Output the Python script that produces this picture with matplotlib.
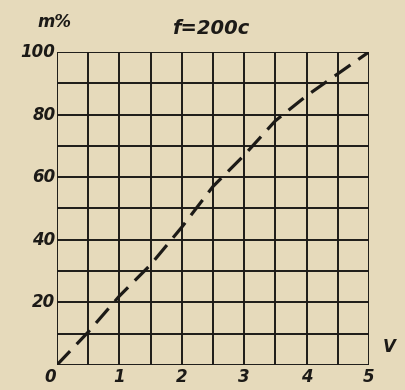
import numpy as np
import matplotlib
matplotlib.use("Agg")
import matplotlib.pyplot as plt

# (volts -> modulation depth %)
volts = [0, 0.5, 1.0, 1.5, 2.0, 2.5, 3.0, 3.5, 4.0, 4.5, 5.0]
depth = [0, 10.5, 22, 32, 44, 57, 67, 78, 86, 93, 100]

x_ticks = [0, 1, 2, 3, 4, 5]
x_labels = ['0', '1', '2', '3', '4', '5']
y_ticks = [20, 40, 60, 80, 100]
y_labels = ['20', '40', '60', '80', '100']

PAPER = '#e6dabb'
INK = '#1c1a17'

fig = plt.figure(figsize=(4.06, 3.90), dpi=100, facecolor=PAPER)
ax = fig.add_axes([0.140, 0.064, 0.769, 0.803])
ax.set_facecolor(PAPER)

# the squared paper
for gx in np.arange(0, 5.01, 0.5):
    ax.axvline(gx, color=INK, lw=1.4, zorder=1)
for gy in np.arange(0, 100.1, 10):
    ax.axhline(gy, color=INK, lw=1.4, zorder=1)

ax.plot(volts, depth, color=INK, lw=2.3, dashes=(6, 3), zorder=3)

ax.set_xlim(0, 5)
ax.set_ylim(0, 100)
for s in ax.spines.values():
    s.set_visible(False)
ax.set_xticks([])
ax.set_yticks([])

txt = dict(fontstyle='italic', fontweight='bold', fontsize=12, color=INK)
for xv, lab in zip(x_ticks, x_labels):
    dx = -5 if xv == 0 else 0
    ax.annotate(lab, (xv, 0), xytext=(dx, -2), textcoords='offset points',
                ha='center', va='top', **txt)
for yv, lab in zip(y_ticks, y_labels):
    ax.annotate(lab, (0, yv), xytext=(-1, 0), textcoords='offset points',
                ha='right', va='center', **txt)

ax.annotate('V', (5, 3), xytext=(10, 0), textcoords='offset points',
            ha='left', va='bottom', **txt)
fig.text(0.135, 0.944, 'm%', ha='center', va='center', **txt)
fig.text(0.52, 0.928, 'f=200c', ha='center', va='center',
         fontstyle='italic', fontweight='bold', fontsize=14, color=INK)

fig.savefig('out.png', dpi=100, facecolor=PAPER)
